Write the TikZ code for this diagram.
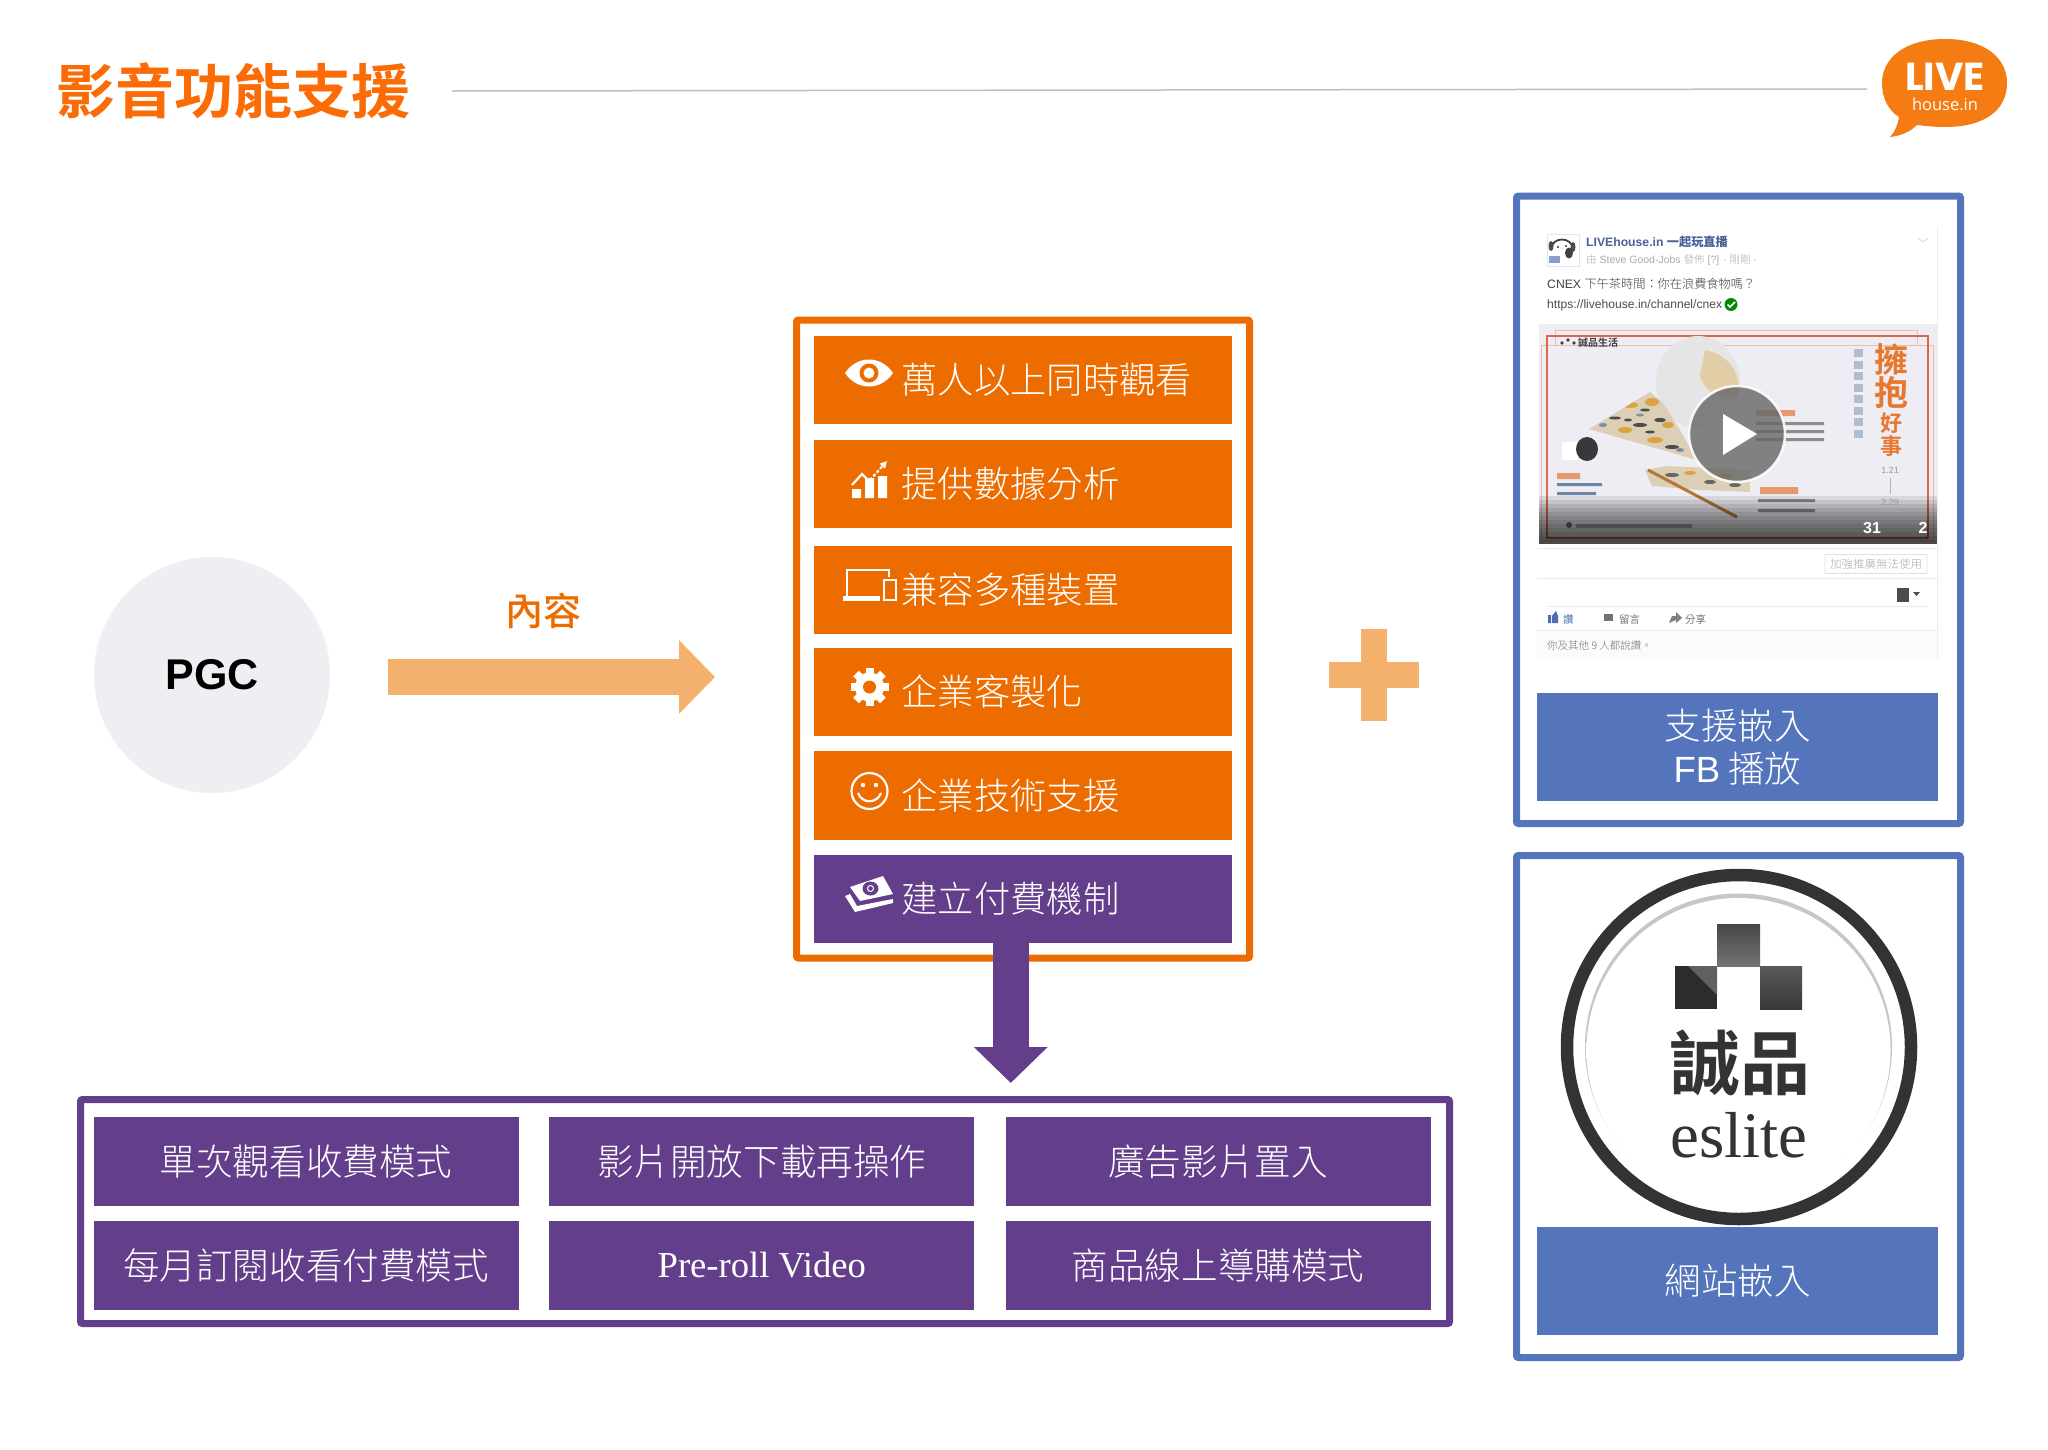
\documentclass[tikz,border=0pt]{standalone}
\usepackage{fontspec}
\usetikzlibrary{arrows.meta,calc}
\setmainfont{Liberation Serif}
\newfontfamily\cjk{Noto Sans CJK TC Light}
\newfontfamily\cjkn{Noto Sans CJK TC}
\newfontfamily\cjkm{Noto Sans CJK TC Medium}
\newfontfamily\cjkb{Noto Sans CJK TC Bold}
\newfontfamily\arial{Liberation Sans}
\newfontfamily\pop{Poppins}
\newfontfamily\opens{Open Sans}
\newcommand{\fs}[1]{\fontsize{#1}{#1}\selectfont}
\definecolor{orbar}{HTML}{EC6C00}
\definecolor{purp}{HTML}{633F8B}
\definecolor{blu}{HTML}{5474BB}
\definecolor{peach}{HTML}{F4B16E}
\definecolor{ttl}{HTML}{FB6C07}
\definecolor{lg}{HTML}{F47C12}
\definecolor{pgcg}{HTML}{EFEEF2}
\definecolor{esl}{HTML}{333336}
\definecolor{fbb}{HTML}{4A6198}
\definecolor{fbg}{HTML}{A9ABB0}
\definecolor{redl}{HTML}{D9694A}
\definecolor{thumbbg}{HTML}{EDEDF3}
\definecolor{tan}{HTML}{E2C48C}
\definecolor{cloth}{HTML}{DCCFB6}
\definecolor{gold}{HTML}{D9A441}
\definecolor{slate}{HTML}{7D8FA8}
\definecolor{wood}{HTML}{B5763A}
\definecolor{pale}{HTML}{E5996F}
\definecolor{steel}{HTML}{6E87A8}
\definecolor{scorg}{HTML}{E8772E}
\definecolor{fblike}{HTML}{4F6DAE}
\definecolor{esldark}{HTML}{2C2C2E}
\pgfdeclareradialshading{rimshade}{\pgfpoint{0bp}{0bp}}{color(0bp)=(white);color(44bp)=(white);color(48bp)=(white!93!black);color(50bp)=(white!80!black)}
\tikzset{
  framebox/.style={draw,fill=white,line width=7pt,rounded corners=2pt,inner sep=0pt},
  bar/.style={inner sep=0pt,minimum width=418.5pt,minimum height=88.5pt,text=white,text width=418.5pt,align=left,font=\cjk\fs{36.3}},
  cell/.style={fill=purp,inner sep=0pt,minimum width=425pt,minimum height=88.5pt,text=white,align=center,font=\cjk\fs{36.6}},
  blabel/.style={fill=blu,inner sep=0pt,minimum width=401pt,text=white,align=center},
  bigarrow/.style={-{Triangle[width=71.6pt,length=36pt]},line width=36pt},
  scr/.style={anchor=west,inner sep=0pt},
  ic/.style={white,line width=2.2pt}
}
\begin{document}
\begin{tikzpicture}[x=1pt,y=-1pt]
\useasboundingbox (0,0) rectangle (2048,1449);
\fill[white] (0,0) rectangle (2048,1449);

% header
\node[anchor=west,inner sep=0pt,text=ttl,font=\cjkb\fs{59}] (title) at (56.5,91) {影音功能支援};
\draw[color=black!25,line width=1.5pt] (452,91) -- (1867,89);

% logo
\fill[lg] (1945,39) .. controls (1985,39) and (2007,58) .. (2007,83)
  .. controls (2007,110) and (1985,127) .. (1945,127)
  .. controls (1935,127) and (1925,126) .. (1917,125)
  .. controls (1910,132) and (1900,136) .. (1890,137)
  .. controls (1895,132) and (1898,124) .. (1899,117)
  .. controls (1888,110) and (1882,98) .. (1882,83)
  .. controls (1882,58) and (1905,39) .. (1945,39) -- cycle;
\node[inner sep=0pt,text=white,font=\pop\bfseries\fs{39}] (logolive) at (1945,77) {LIVE};
\node[inner sep=0pt,text=white,font=\opens\fs{16.5}] (logohouse) at (1945,104) {house.in};

% PGC
\node[circle,fill=pgcg,minimum size=236pt,inner sep=0pt,font=\arial\bfseries\fs{43},text=black] (pgc) at (212,675) {\raisebox{-1.2pt}{PGC}};
\node[inner sep=0pt,text=orbar,font=\cjkm\fs{38}] (content) at (543,611) {內容};

% feature box
\node[framebox,draw=orbar,minimum width=453pt,minimum height=638pt] (featbox) at (1023,639) {};
\node[bar,fill=orbar] (f1) at (1022.75,380) {\hspace*{88pt}萬人以上同時觀看};
\node[bar,fill=orbar] (f2) at (1022.75,484) {\hspace*{88pt}提供數據分析};
\node[bar,fill=orbar] (f3) at (1022.75,590) {\hspace*{88pt}兼容多種裝置};
\node[bar,fill=orbar] (f4) at (1022.75,692) {\hspace*{88pt}企業客製化};
\node[bar,fill=orbar] (f5) at (1022.75,795.5) {\hspace*{88pt}企業技術支援};
\node[bar,fill=purp] (f6) at (1022.75,899) {\hspace*{88pt}建立付費機制};

% icons: eye
\fill[white] (845,373) .. controls (857,355) and (881,355) .. (893,373) .. controls (881,391) and (857,391) .. (845,373) -- cycle;
\fill[orbar] (869,373) circle (9.5);
\fill[white] (869,373) circle (5.5);
% chart
\fill[white] (852,489) rectangle (861,498) (865,478) rectangle (874,498) (878,476) rectangle (887,498);
\draw[white,line width=2.2pt] (852,485) -- (862,474) -- (869,481);
\draw[white,line width=2.2pt,dash pattern=on 3pt off 2pt,-{Triangle[width=7pt,length=7pt]}] (870,480) -- (887,461);
% devices
\draw[ic] (847,596) -- (847,570) -- (889,570) -- (889,577);
\fill[white] (843,596) rectangle (880,601);
\draw[ic,fill=orbar] (884,580) rectangle (896,600);
% gear
\foreach \a in {0,45,...,315}{\draw[white,line width=8pt] (869.5,687) -- ++(\a:19);}
\fill[white] (869.5,687) circle (14.5);
\fill[orbar] (869.5,687) circle (6.5);
% smile
\draw[ic] (869.5,791) circle (18);
\fill[white] (863,785) circle (2.2) (876,785) circle (2.2);
\draw[ic] (858,793) .. controls (862,804) and (877,804) .. (881,793);
% money
\fill[white] (845,896) -- (855,912) -- (893,903) -- (893,899) -- (857,906) -- (850,894) -- cycle;
\fill[white] (850,887) -- (883,876) -- (893,894) -- (860,901) -- cycle;
\fill[purp] (870.5,888.5) ellipse (8 and 7);
\draw[white,line width=1pt] (870.5,888.5) circle (3);

% bottom box
\node[framebox,draw=purp,minimum width=1369pt,minimum height=224pt] (modelbox) at (765,1211.5) {};
\node[cell] (m1) at (306,1161.5) {單次觀看收費模式};
\node[cell] (m2) at (761.75,1161.5) {影片開放下載再操作};
\node[cell] (m3) at (1218,1161.5) {廣告影片置入};
\node[cell] (m4) at (306,1265.5) {每月訂閱收看付費模式};
\node[cell,font=\fs{36.6}] (m5) at (761.75,1265.5) {\raisebox{-1pt}{Pre-roll Video}};
\node[cell] (m6) at (1218,1265.5) {商品線上導購模式};

% arrows
\draw[bigarrow,color=peach,shorten <=58pt,shorten >=78pt] ([yshift=-2pt]pgc.east) -- ([yshift=-2pt]pgc.east -| featbox.west);
\draw[bigarrow,color=purp,shorten >=13pt] ([xshift=-12pt]f6.south) -- ([xshift=-12pt]f6.south |- modelbox.north);

% plus
\fill[peach] (1361,629) rectangle (1387,721);
\fill[peach] (1329,662) rectangle (1419,688);

% FB panel
\node[framebox,draw=blu,minimum width=444pt,minimum height=627.5pt] (fbpanel) at (1738.5,509.75) {};
\fill[black!1.5] (1537,630) rectangle (1938,658);
\draw[black!7,line width=.8pt] (1937,226) -- (1937,658);
\draw[black!8,line width=.8pt] (1537,548) -- (1937,548) (1537,578.6) -- (1937,578.6) (1547,606) -- (1928,606) (1537,630) -- (1937,630);
% avatar
\draw[black!10,fill=white] (1547,234) rectangle (1579,266);
\fill[white] (1562,249) ellipse (11 and 10);
\draw[black!75,line width=1.8pt] (1551,250) .. controls (1551,236) and (1573,236) .. (1573,250);
\fill[black!70] (1551,246) ellipse (2.5 and 5) (1573,247) ellipse (2.5 and 5);
\fill[black!75] (1569,253) ellipse (4 and 5.5);
\fill[black!80] (1558,247) circle (1.2) (1566,246) circle (1.2);
\fill[blu!70] (1549,256) rectangle (1560,263);
\node[scr,text=fbb,font=\arial\bfseries\fs{12.2}] (fbname) at (1586,242) {LIVEhouse.in {\cjkb 一起玩直播}};
\node[scr,text=fbg,font=\arial\fs{10.5}] (fbby) at (1586,260) {{\cjk 由} Steve Good-Jobs {\cjk 發佈} [?] · {\cjk 剛剛} ·};
\draw[black!14,line width=1pt] (1918,238) -- (1923,242) -- (1928,238);
\node[scr,text=black!75,font=\arial\fs{12.2}] (fbpost) at (1547,284) {CNEX {\cjk 下午茶時間：你在浪費食物嗎？}};
\node[scr,text=black!70,font=\arial\fs{12.1}] (fburl) at (1547,305) {https://livehouse.in/channel/cnex};
\fill[green!55!black] (1731,304.5) circle (6.5);
\draw[white,line width=1.6pt] (1727.5,304.5) -- (1730,307) -- (1735,302);

% video thumbnail
\begin{scope}
\clip (1539,324) rectangle (1937,544);
\fill[thumbbg] (1539,324) rectangle (1937,544);
\draw[redl!45,line width=.8pt] (1555,330) rectangle (1917,345) (1541,345) rectangle (1933,540);
\draw[redl,line width=1.6pt] (1547,335.7) rectangle (1928,537.7);
% globe
\fill[black!10] (1698,382) ellipse (42 and 46);
\fill[tan,opacity=.7] (1705,350) .. controls (1730,355) and (1742,375) .. (1738,395) .. controls (1725,400) and (1705,395) .. (1700,375) -- cycle;
% cloth
\begin{scope}
\clip (1589,429) -- (1650,392) -- (1663,403) -- (1680,430) -- (1697,460) -- cycle;
\fill[cloth] (1580,385) rectangle (1700,465);
\fill[black!70] (1615,418) ellipse (6 and 1.5) (1640,425) ellipse (7 and 2) (1660,420) ellipse (6 and 2) (1672,447) ellipse (7 and 2) (1645,410) ellipse (5 and 1.5) (1628,420) ellipse (4 and 1.5) (1650,432) ellipse (5 and 1.5);
\fill[gold] (1630,405) ellipse (8 and 3) (1652,402) ellipse (7 and 4) (1625,430) ellipse (7 and 3) (1655,440) ellipse (8 and 3) (1668,425) ellipse (6 and 3);
\fill[slate] (1680,450) ellipse (4 and 2) (1603,425) ellipse (4 and 2) (1640,415) ellipse (4 and 1.5);
\end{scope}
% second cloth
\fill[cloth] (1645,470) -- (1668,466) -- (1750,470) -- (1750,492) -- (1700,490) -- (1652,486) -- cycle;
\fill[black!60] (1672,475) ellipse (7 and 2) (1710,482) ellipse (6 and 2) (1735,485) ellipse (6 and 2);
\fill[gold] (1690,473) ellipse (6 and 2) (1725,476) ellipse (6 and 3);
\draw[wood,line width=3pt] (1648,470) -- (1737,517);
% cup and dark object
\fill[white] (1562,442) rectangle (1578,460);
\fill[black!78] (1587,449) ellipse (11 and 12);
% small texts as blurred lines
\fill[black!75] (1562,343) circle (1.8) (1568,340) circle (1.8) (1574,343) circle (1.8);
\node[scr,text=black!75,font=\cjkb\fs{10}] (scn) at (1578,343) {誠品生活};
\fill[pale] (1756,410) rectangle (1795,416) (1760,487) rectangle (1798,494) (1557,473) rectangle (1580,479);
\fill[black!45] (1756,422) rectangle (1824,425) (1756,430) rectangle (1824,433) (1756,438) rectangle (1824,441);
\fill[steel] (1557,483) rectangle (1602,486) (1557,492) rectangle (1596,495);
\fill[black!45] (1758,499) rectangle (1815,502) (1758,509) rectangle (1815,512);
\foreach \i in {0,...,7}{\fill[steel!55] (1854,{349+\i*11.5}) rectangle (1863,{357+\i*11.5});}
% video overlay
\foreach \i in {0,...,11}{\fill[black,opacity=.09] (1539,{496+\i*4}) rectangle (1937,544);}
\fill[black!80] (1569,525) circle (3);
\fill[black!70] (1576,523.5) rectangle (1692,528);
% right title
\node[inner sep=0pt,text=scorg,font=\cjkb\fs{34}] (sc1) at (1891,360) {擁};
\node[inner sep=0pt,text=scorg,font=\cjkb\fs{34}] (sc2) at (1891,393) {抱};
\node[inner sep=0pt,text=scorg,font=\cjkb\fs{22}] (sc3) at (1891,423) {好};
\node[inner sep=0pt,text=scorg,font=\cjkb\fs{22}] (sc4) at (1891,446) {事};
\node[inner sep=0pt,text=black!40,font=\arial\fs{9}] (sc5) at (1890,470) {1.21};
\draw[black!30,line width=.8pt] (1890,478) -- (1890,494);
\node[inner sep=0pt,text=black!40,font=\arial\fs{9}] (sc6) at (1890,502) {2.29};
% play
\fill[black!60,opacity=.8] (1737,434) circle (48);
\draw[white,line width=2.5pt,opacity=.9] (1737,434) circle (48);
\fill[white] (1723,414) -- (1757,434) -- (1723,455) -- cycle;
\node[inner sep=0pt,text=white,font=\arial\bfseries\fs{16}] (n31) at (1872,528) {31};
\node[inner sep=0pt,text=white,font=\arial\bfseries\fs{16}] (n2) at (1923,528) {2};
\end{scope}
\draw[black!12,line width=.8pt,rounded corners=1pt] (1825,554.5) rectangle (1927,573.5);
\node[inner sep=0pt,text=fbg,font=\cjk\fs{11.5}] (promo) at (1876,564) {加強推廣無法使用};
\fill[black!70] (1897,588) rectangle (1909,602);
\fill[black!70] (1913,592) -- (1920,592) -- (1916.5,596) -- cycle;
% actions
\fill[fblike] (1548,615) rectangle (1551,623) (1552,616) -- (1556,611) -- (1558,616) -- (1558,623) -- (1552,623) -- cycle;
\node[scr,text=fblike,font=\cjkn\fs{10.5}] (alike) at (1563,619) {讚};
\fill[black!55] (1604,614) rectangle (1613,621);
\node[scr,text=black!55,font=\cjkn\fs{10.5}] (acomment) at (1619,619) {留言};
\fill[black!50] (1669,623) -- (1672,616) -- (1676,616) -- (1676,612) -- (1682,618) -- (1676,623) -- (1676,620) -- cycle;
\node[scr,text=black!55,font=\cjkn\fs{10.5}] (ashare) at (1685,619) {分享};
\node[scr,text=black!55,font=\cjk\fs{10.5}] (alikes) at (1547,645) {你及其他 9 人都說讚。};
\node[blabel,minimum height=108.5pt,font=\cjk\fontsize{36.5}{43}\selectfont] (fblabel) at (1737.5,746.8) {支援嵌入\\{\arial FB} 播放};

% eslite panel
\node[framebox,draw=blu,minimum width=444pt,minimum height=502pt] (eslpanel) at (1738.5,1106.5) {};
\fill[black!22] (1738.5,1047) circle (153.5);
\shade[shading=rimshade] (1738.5,1050) circle (152);
\draw[esl,line width=12.5pt] (1739,1047) circle (172);
\shade[top color=black!72,bottom color=black!55] (1717,924) rectangle (1760,966);
\fill[esldark] (1675,966) rectangle (1717,1009);
\fill[black!62] (1688,966) -- (1717,966) -- (1717,995) -- cycle;
\shade[top color=black!65,bottom color=black!78] (1760,966) rectangle (1802,1009);
\node[inner sep=0pt,text=esl,font=\cjkb\fs{70}] (eslcn) at (1740,1063) {誠品};
\node[inner sep=0pt,text=esl,font=\fs{65}] (esltxt) at (1739,1135) {eslite};
\node[blabel,minimum height=108.5pt,font=\cjk\fs{36.5}] (esllabel) at (1737.5,1281) {網站嵌入};
\end{tikzpicture}
\end{document}
